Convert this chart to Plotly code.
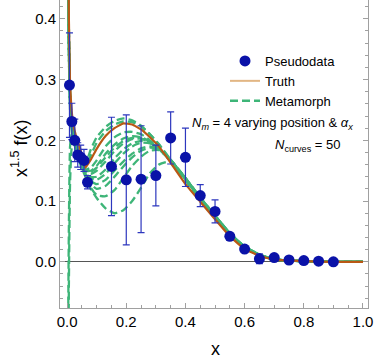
import plotly.graph_objects as go

# ---------------- data ----------------
x_grid = [0.003, 0.006, 0.01, 0.015, 0.02, 0.03, 0.045, 0.062, 0.08, 0.1, 0.13, 0.16, 0.19,
          0.22, 0.25, 0.28, 0.31, 0.35, 0.4, 0.45, 0.5, 0.55, 0.6, 0.65, 0.7, 0.8, 0.9, 1.0]

truth_y = [0.62, 0.40, 0.292, 0.25, 0.23, 0.207, 0.185, 0.155, 0.168, 0.186, 0.207, 0.220, 0.228,
           0.226, 0.218, 0.205, 0.19, 0.163, 0.128, 0.099, 0.070, 0.042, 0.021, 0.010, 0.004, 0.001, 0.0, 0.0]

meta_1 = [0.60, 0.39, 0.28, 0.24, 0.22, 0.20, 0.178, 0.162, 0.185, 0.205, 0.222, 0.232, 0.236,
          0.233, 0.224, 0.21, 0.193, 0.167, 0.134, 0.102, 0.073, 0.045, 0.023, 0.011, 0.004, 0.001, 0.0, 0.0]
meta_2 = [0.58, 0.38, 0.28, 0.24, 0.22, 0.198, 0.176, 0.158, 0.175, 0.196, 0.215, 0.226, 0.231,
          0.23, 0.223, 0.21, 0.194, 0.168, 0.135, 0.103, 0.074, 0.046, 0.024, 0.011, 0.004, 0.001, 0.0, 0.0]
meta_3 = [0.57, 0.37, 0.275, 0.235, 0.215, 0.196, 0.175, 0.152, 0.155, 0.167, 0.19, 0.205, 0.213,
          0.214, 0.21, 0.2, 0.187, 0.166, 0.136, 0.104, 0.075, 0.046, 0.024, 0.011, 0.004, 0.001, 0.0, 0.0]
meta_4 = [0.56, 0.37, 0.27, 0.232, 0.213, 0.195, 0.173, 0.15, 0.15, 0.158, 0.178, 0.193, 0.203,
          0.207, 0.205, 0.198, 0.186, 0.166, 0.137, 0.105, 0.075, 0.047, 0.024, 0.011, 0.004, 0.001, 0.0, 0.0]
meta_5 = [0.55, 0.36, 0.27, 0.23, 0.212, 0.193, 0.171, 0.148, 0.145, 0.15, 0.165, 0.182, 0.195,
          0.202, 0.203, 0.197, 0.186, 0.166, 0.137, 0.105, 0.076, 0.047, 0.025, 0.012, 0.004, 0.001, 0.0, 0.0]
meta_6 = [0.55, 0.36, 0.265, 0.228, 0.21, 0.19, 0.169, 0.146, 0.14, 0.14, 0.152, 0.17, 0.185,
          0.195, 0.199, 0.196, 0.187, 0.167, 0.138, 0.106, 0.076, 0.047, 0.025, 0.012, 0.004, 0.001, 0.0, 0.0]
meta_7 = [0.54, 0.35, 0.26, 0.225, 0.208, 0.188, 0.167, 0.145, 0.133, 0.128, 0.135, 0.15, 0.165,
          0.178, 0.187, 0.19, 0.186, 0.168, 0.138, 0.106, 0.076, 0.047, 0.025, 0.012, 0.004, 0.001, 0.0, 0.0]
meta_8 = [0.53, 0.35, 0.26, 0.222, 0.205, 0.186, 0.165, 0.143, 0.128, 0.12, 0.125, 0.14, 0.157,
          0.172, 0.183, 0.188, 0.185, 0.168, 0.138, 0.106, 0.076, 0.047, 0.025, 0.012, 0.004, 0.001, 0.0, 0.0]
meta_9 = [0.53, 0.34, 0.255, 0.22, 0.203, 0.184, 0.163, 0.14, 0.122, 0.11, 0.108, 0.118, 0.138,
          0.158, 0.173, 0.183, 0.184, 0.168, 0.137, 0.105, 0.075, 0.046, 0.024, 0.011, 0.004, 0.001, 0.0, 0.0]
meta_10 = [0.52, 0.34, 0.25, 0.218, 0.2, 0.182, 0.16, 0.14, 0.12, 0.105, 0.088, 0.08, 0.085,
           0.10, 0.122, 0.146, 0.16, 0.165, 0.136, 0.104, 0.075, 0.046, 0.024, 0.011, 0.004, 0.001, 0.0, 0.0]
meta_11 = [-0.15, 0.06, 0.19, 0.21, 0.205, 0.19, 0.17, 0.15, 0.148, 0.155, 0.172, 0.188, 0.199,
           0.204, 0.203, 0.197, 0.186, 0.166, 0.136, 0.104, 0.075, 0.046, 0.024, 0.011, 0.004, 0.001, 0.0, 0.0]
meta_12 = [-0.3, -0.04, 0.13, 0.185, 0.195, 0.188, 0.168, 0.147, 0.137, 0.135, 0.145, 0.162, 0.178,
           0.19, 0.196, 0.195, 0.187, 0.167, 0.137, 0.105, 0.076, 0.047, 0.025, 0.012, 0.004, 0.001, 0.0, 0.0]
meta_curves = [meta_1, meta_2, meta_3, meta_4, meta_5, meta_6, meta_7, meta_8, meta_9, meta_10, meta_11, meta_12]

white_x = [0.026, 0.022, 0.019, 0.016]
white_y = [0.16, 0.11, 0.06, 0.01]

data_x = [0.008, 0.016, 0.026, 0.036, 0.046, 0.057, 0.069, 0.15, 0.2, 0.25, 0.3, 0.35, 0.4, 0.45,
          0.5, 0.55, 0.6, 0.65, 0.7, 0.75, 0.8, 0.85, 0.9]
data_y = [0.291, 0.231, 0.2, 0.176, 0.172, 0.167, 0.131, 0.157, 0.135, 0.136, 0.142, 0.204, 0.172,
          0.109, 0.083, 0.042, 0.021, 0.005, 0.007, 0.003, 0.002, 0.001, 0.0]
data_err = [0.086, 0.03, 0.035, 0.02, 0.02, 0.018, 0.011, 0.081, 0.107, 0.088, 0.05, 0.043, 0.048,
            0.018, 0.019, 0.004, 0.003, 0.008, 0.002, 0.002, 0.002, 0.002, 0.002]

x_ticks = [0.0, 0.2, 0.4, 0.6, 0.8, 1.0]
y_ticks = [0.0, 0.1, 0.2, 0.3, 0.4]

# ---------------- styling ----------------
GREEN = "rgb(62,181,120)"
TRUTH = "rgb(185,88,20)"
TRUTH_LEG = "rgb(226,182,132)"
BLUE = "rgb(10,18,168)"
ERR = "rgb(45,55,190)"
FONT = "Liberation Sans, Arial, sans-serif"

fig = go.Figure()

for cy in meta_curves:
    fig.add_trace(go.Scatter(x=x_grid, y=cy, mode="lines", showlegend=False,
                             line=dict(color=GREEN, width=2.3, dash="8px,4px", shape="spline", smoothing=0.5),
                             hoverinfo="skip"))

fig.add_trace(go.Scatter(x=white_x, y=white_y, mode="lines", showlegend=False,
                         line=dict(color="white", width=2, dash="6px,4px"), hoverinfo="skip"))

fig.add_trace(go.Scatter(x=x_grid, y=truth_y, mode="lines", showlegend=False,
                         line=dict(color=TRUTH, width=2.2, shape="spline", smoothing=0.3)))

fig.add_trace(go.Scatter(x=data_x, y=data_y, mode="markers", showlegend=False,
                         marker=dict(color=BLUE, size=11),
                         error_y=dict(type="data", array=data_err, color=ERR, thickness=1.2, width=3.5)))

# legend entries
fig.add_trace(go.Scatter(x=[None], y=[None], mode="markers", name="Pseudodata",
                         marker=dict(color=BLUE, size=11)))
fig.add_trace(go.Scatter(x=[None], y=[None], mode="lines", name="Truth",
                         line=dict(color=TRUTH_LEG, width=2)))
fig.add_trace(go.Scatter(x=[None], y=[None], mode="lines", name="Metamorph",
                         line=dict(color=GREEN, width=2.5, dash="8px,4px")))

L, R, T, B = 60, 6, 0, 53
W, H = 374, 361
pw, ph = W - L - R, H - T - B

def px(X):
    return (X - L) / pw

def py(Y):
    return (H - B - Y) / ph

ann_common = dict(xref="paper", yref="paper", showarrow=False, xanchor="center", yanchor="middle")
fig.add_annotation(x=px(272), y=py(123), **ann_common,
                   text="<i>N</i><sub><i>m</i></sub> = 4 varying position &amp; <i>α</i><sub><i>x</i></sub>",
                   font=dict(family=FONT, size=13, color="black"))
fig.add_annotation(x=px(307), y=py(145), **ann_common,
                   text="<i>N</i><sub>curves</sub> = 50",
                   font=dict(family=FONT, size=13, color="black"))
# axis titles
fig.add_annotation(x=px(216), y=py(349), **ann_common,
                   text="x", font=dict(family=FONT, size=18, color="black"))
fig.add_annotation(x=px(19), y=py(148), **ann_common, textangle=-90,
                   text="x<sup>1.5</sup> f(x)", font=dict(family=FONT, size=18, color="black"))

fig.update_layout(
    width=W, height=H,
    margin=dict(l=L, r=R, t=T, b=B, pad=0, autoexpand=False),
    paper_bgcolor="white", plot_bgcolor="white",
    font=dict(family=FONT, color="black"),
    showlegend=True,
    legend=dict(x=px(225), y=py(46), xanchor="left", yanchor="top", bgcolor="rgba(0,0,0,0)",
                font=dict(family=FONT, size=13, color="black"), borderwidth=0),
    xaxis=dict(range=[-0.024, 1.017], tickvals=x_ticks, ticktext=[f"{v:.1f}" for v in x_ticks],
               automargin=False,
               showgrid=False, zeroline=False, showline=True, linecolor="#a0a0a0", linewidth=1,
               mirror=False, ticks="inside", ticklen=5, tickcolor="#a0a0a0",
               minor=dict(dtick=0.05, tick0=0, ticks="inside", ticklen=3, tickcolor="#a0a0a0"),
               tickfont=dict(size=15, family=FONT)),
    yaxis=dict(range=[-0.076, 0.431], tickvals=y_ticks, ticktext=[f"{v:.1f}" for v in y_ticks],
               automargin=False,
               showgrid=False, zeroline=True, zerolinecolor="#555555", zerolinewidth=1,
               showline=True, linecolor="#a0a0a0", linewidth=1, mirror="ticks",
               ticks="inside", ticklen=5, tickcolor="#a0a0a0",
               minor=dict(dtick=0.02, tick0=0, ticks="inside", ticklen=3, tickcolor="#a0a0a0"),
               tickfont=dict(size=15, family=FONT)),
)

fig.write_html("out.html", config={"displayModeBar": False},
               post_script="document.body.style.margin='0';document.body.style.overflow='hidden';")
